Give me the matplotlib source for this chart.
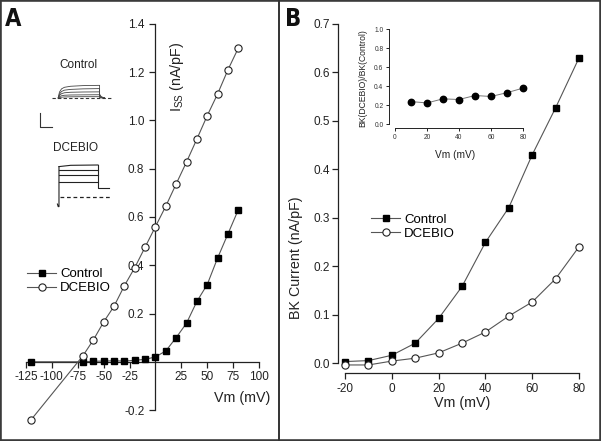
import matplotlib
matplotlib.use('Agg')
import matplotlib.pyplot as plt
from matplotlib.lines import Line2D
from matplotlib.patches import Rectangle

plt.rcParams['font.family'] = ['Liberation Sans', 'DejaVu Sans']
plt.rcParams['axes.unicode_minus'] = False
plt.rcParams['mathtext.default'] = 'regular'

# ---------------- data ----------------
# Panel A: steady-state I-V
a_vm = [-120, -70, -60, -50, -40, -30, -20, -10, 0, 10, 20, 30, 40, 50, 60, 70, 80]
a_control = [0.0, 0.0, 0.002, 0.003, 0.004, 0.003, 0.006, 0.01, 0.02, 0.045,
             0.10, 0.16, 0.25, 0.32, 0.43, 0.53, 0.63]
a_dcebio = [-0.24, 0.025, 0.09, 0.165, 0.23, 0.315, 0.39, 0.475, 0.56, 0.645,
            0.737, 0.828, 0.923, 1.02, 1.11, 1.21, 1.30]
a_xticks = [-125, -100, -75, -50, -25, 25, 50, 75, 100]
a_yticks = [-0.2, 0.2, 0.4, 0.6, 0.8, 1.0, 1.2, 1.4]

# Panel B: BK current
b_vm = [-20, -10, 0, 10, 20, 30, 40, 50, 60, 70, 80]
b_control = [0.003, 0.005, 0.016, 0.041, 0.092, 0.158, 0.249, 0.321, 0.43, 0.527, 0.63]
b_dcebio = [-0.004, -0.004, 0.004, 0.01, 0.021, 0.041, 0.064, 0.097, 0.126, 0.174, 0.24]
b_xticks = [-20, 0, 20, 40, 60, 80]
b_yticks = [0.0, 0.1, 0.2, 0.3, 0.4, 0.5, 0.6, 0.7]

# Inset: ratio
ratio_vm = [10, 20, 30, 40, 50, 60, 70, 80]
ratio = [0.236, 0.222, 0.265, 0.258, 0.30, 0.29, 0.33, 0.378]
in_xticks = [0, 20, 40, 60, 80]
in_yticks = [0.0, 0.2, 0.4, 0.6, 0.8, 1.0]

# Example current traces (arbitrary units, time in ms)
ctrl_t = [0, 3, 8, 15, 30, 60, 100]
ctrl_traces = [
    [0, 0.45, 0.70, 0.82, 0.90, 0.95, 0.97],
    [0, 0.30, 0.50, 0.60, 0.66, 0.70, 0.72],
    [0, 0.20, 0.33, 0.40, 0.44, 0.46, 0.47],
    [0, 0.10, 0.17, 0.21, 0.23, 0.24, 0.25],
    [0, 0.04, 0.06, 0.08, 0.09, 0.10, 0.10],
]
dceb_levels = [1.0, 0.84, 0.69, 0.47]
dceb_tail = 0.28

W, H = 601, 441
fig = plt.figure(figsize=(W / 100, H / 100), dpi=100)


def box(x0, y0, x1, y1):
    return [x0 / W, 1 - y1 / H, (x1 - x0) / W, (y1 - y0) / H]


LC = '#555555'
AX = '#222222'

# ---------------- Panel A ----------------
axA = fig.add_axes(box(20.8, 11.9, 264.2, 424.5))
axA.set_xlim(-130, 105)
axA.set_ylim(-0.26, 1.45)
lA1, = axA.plot(a_vm, a_control, '-', color=LC, lw=0.8, marker='s', ms=4.4,
                mfc='black', mec='black', clip_on=False, zorder=3)
lA2, = axA.plot(a_vm, a_dcebio, '-', color=LC, lw=0.8, marker='o', ms=5.2,
                mfc='white', mec='#222222', mew=0.8, clip_on=False, zorder=3)
for s in ['top', 'right']:
    axA.spines[s].set_visible(False)
axA.spines['left'].set_position(('data', 0))
axA.spines['bottom'].set_position(('data', 0))
axA.spines['left'].set_bounds(-0.2, 1.4)
axA.spines['bottom'].set_bounds(-125, 100)
for s in ['left', 'bottom']:
    axA.spines[s].set_linewidth(0.9)
    axA.spines[s].set_color(AX)
axA.set_xticks(a_xticks)
axA.set_xticklabels([str(v) for v in a_xticks])
axA.set_yticks(a_yticks)
axA.set_yticklabels(['%.1f' % v for v in a_yticks])
axA.tick_params(axis='both', direction='out', length=4, width=0.9, color=AX,
                labelsize=8.5, labelcolor='#222222')
axA.tick_params(axis='y', pad=4)
axA.tick_params(axis='x', pad=2.5)
axA.patch.set_visible(False)
axA.legend([lA1, lA2], ['Control', 'DCEBIO'], loc='upper left',
           bbox_to_anchor=(27 / W, 1 - 268 / H), bbox_transform=fig.transFigure,
           frameon=False, borderpad=0, borderaxespad=0, handlelength=2.2,
           handletextpad=0.3, labelspacing=0.15, fontsize=9.5, numpoints=1)

fig.text(177 / W, 1 - 77 / H, r'I$_{SS}$ (nA/pF)', rotation=90, ha='center',
         va='center', fontsize=10.3, color='#222222')
fig.text(270 / W, 1 - 398 / H, 'Vm (mV)', ha='right', va='center',
         fontsize=10.3, color='#222222')

# Example traces - Control
axT1 = fig.add_axes(box(52, 83, 112, 100))
axT1.set_xlim(-15, 130)
axT1.set_ylim(-0.154, 1.15)
axT1.axis('off')
for tr in ctrl_traces:
    axT1.plot(ctrl_t + [100, 104, 112], tr + [tr[-1] * 0.3, tr[-1] * 0.1, 0],
              color='#444444', lw=0.6)
axT1.plot([-15, 130], [0, 0], ls=(0, (3, 2)), color='#333333', lw=0.8)
# scale bar
axT1.plot([-43.5, -43.5, -14.5], [-1.15, -2.23, -2.23], color='#333333', lw=0.8,
          clip_on=False)
fig.text(78 / W, 1 - 65 / H, 'Control', ha='center', va='center', fontsize=8.5,
         color='#222222')

# Example traces - DCEBIO
axT2 = fig.add_axes(box(52, 160, 112, 210))
axT2.set_xlim(-17.9, 135.9)
axT2.set_ylim(-0.406, 1.156)
axT2.axis('off')
axT2.plot([-4, -2, 0, 0], [-0.22, -0.3, -0.3, dceb_levels[0] * 0.95], color='#222222', lw=0.8)
for i, lv in enumerate(dceb_levels):
    if i == 0:
        axT2.plot([0, 30, 100], [lv * 0.95, lv * 0.99, lv], color='#222222', lw=0.8)
    else:
        axT2.plot([0, 100], [lv, lv], color='#222222', lw=0.8)
axT2.plot([100, 100, 128], [dceb_levels[0], dceb_tail, dceb_tail], color='#222222', lw=0.8)
axT2.plot([2, 130], [0, 0], ls=(0, (3, 2.2)), color='#222222', lw=0.9)
fig.text(75 / W, 1 - 148 / H, 'DCEBIO', ha='center', va='center', fontsize=8.5,
         color='#222222')

# ---------------- Panel B ----------------
axB = fig.add_axes(box(338, 14.3, 583.7, 373))
axB.set_xlim(-23, 82)
axB.set_ylim(-0.0206, 0.72)
lB1, = axB.plot(b_vm, b_control, '-', color=LC, lw=0.8, marker='s', ms=4.4,
                mfc='black', mec='black', clip_on=False, zorder=3)
lB2, = axB.plot(b_vm, b_dcebio, '-', color=LC, lw=0.8, marker='o', ms=5.2,
                mfc='white', mec='#222222', mew=0.8, clip_on=False, zorder=3)
for s in ['top', 'right']:
    axB.spines[s].set_visible(False)
axB.spines['left'].set_bounds(0, 0.7)
axB.spines['bottom'].set_bounds(-20, 80)
for s in ['left', 'bottom']:
    axB.spines[s].set_linewidth(0.9)
    axB.spines[s].set_color(AX)
axB.set_xticks(b_xticks)
axB.set_xticklabels([str(v) for v in b_xticks])
axB.set_yticks(b_yticks)
axB.set_yticklabels(['%.1f' % v for v in b_yticks])
axB.tick_params(axis='both', direction='out', length=4.5, width=0.9, color=AX,
                labelsize=8.5, labelcolor='#222222')
axB.tick_params(axis='y', pad=1.5)
axB.tick_params(axis='x', pad=2.5)
axB.patch.set_visible(False)
axB.legend([lB1, lB2], ['Control', 'DCEBIO'], loc='upper left',
           bbox_to_anchor=(371 / W, 1 - 213.5 / H), bbox_transform=fig.transFigure,
           frameon=False, borderpad=0, borderaxespad=0, handlelength=2.2,
           handletextpad=0.3, labelspacing=0.15, fontsize=9.5, numpoints=1)
fig.text(296 / W, 1 - 258 / H, 'BK Current (nA/pF)', rotation=90, ha='center',
         va='center', fontsize=10.3, color='#222222')
fig.text(462 / W, 1 - 403 / H, 'Vm (mV)', ha='center', va='center',
         fontsize=10.3, color='#222222')

# Inset
axI = fig.add_axes(box(389, 26.2, 529.4, 128))
axI.set_xlim(-3.75, 84)
axI.set_ylim(-0.042, 1.03)
axI.plot(ratio_vm, ratio, '-', color='#777777', lw=0.7, marker='o', ms=4.6,
         mfc='black', mec='black', clip_on=False)
for s in ['top', 'right']:
    axI.spines[s].set_visible(False)
axI.spines['left'].set_bounds(0, 1.0)
axI.spines['bottom'].set_bounds(0, 80)
for s in ['left', 'bottom']:
    axI.spines[s].set_linewidth(0.7)
    axI.spines[s].set_color(AX)
axI.set_xticks(in_xticks)
axI.set_xticklabels([str(v) for v in in_xticks])
axI.set_yticks(in_yticks)
axI.set_yticklabels(['%.1f' % v for v in in_yticks])
axI.tick_params(axis='both', direction='out', length=2.5, width=0.7, color=AX,
                labelsize=4.8, labelcolor='#333333', pad=1.5)
axI.patch.set_visible(False)
fig.text(363 / W, 1 - 78 / H, 'BK(DCEBIO)/BK(Control)', rotation=90, ha='center',
         va='center', fontsize=6.2, color='#222222')
fig.text(455 / W, 1 - 155 / H, 'Vm (mV)', ha='center', va='center',
         fontsize=7.3, color='#222222')

# ---------------- frame, divider, panel labels ----------------
fig.patches.append(Rectangle((0, 0), 1, 1, transform=fig.transFigure, fill=False,
                             lw=2.6, edgecolor='#3a3a3a'))
fig.lines.append(Line2D([279 / W, 279 / W], [0, 1], transform=fig.transFigure,
                        lw=1.4, color='#333333'))
for lab, xp in [('A', 13), ('B', 293)]:
    fig.text(xp / W, 1 - 19 / H, lab, ha='center', va='center', fontsize=17,
             fontweight='bold', fontstretch='condensed',
             family=['DejaVu Sans'], color='#111111')

fig.savefig('out.png', dpi=100)
